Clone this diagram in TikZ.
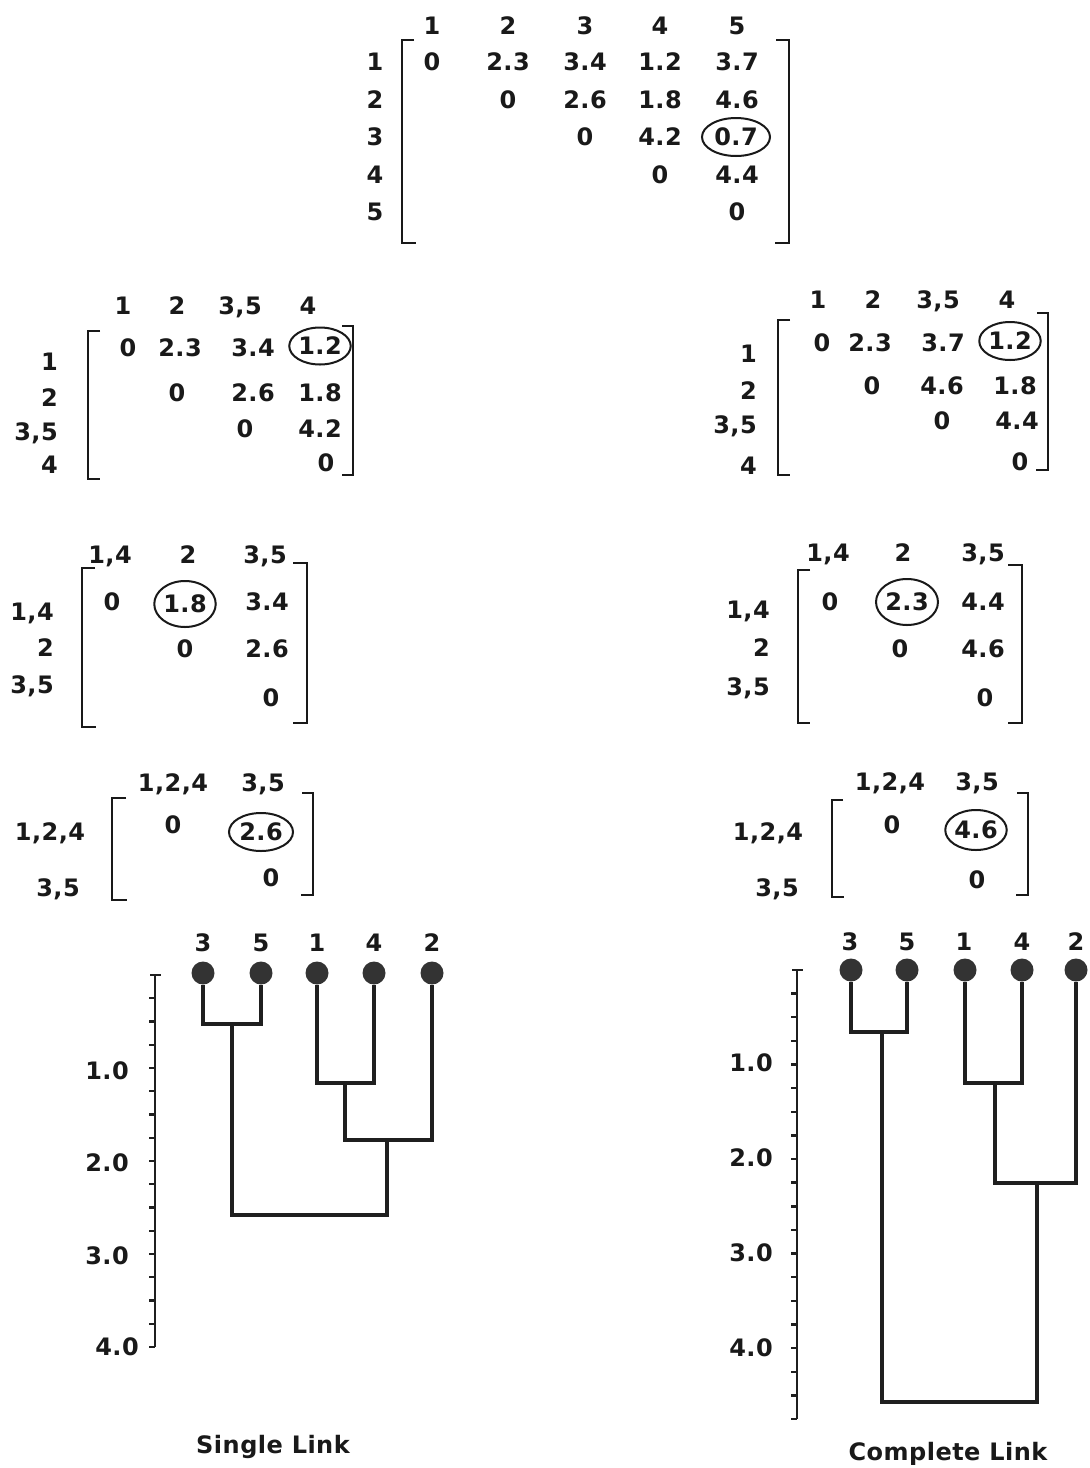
\documentclass[tikz,border=0pt]{standalone}
\usepackage{fontspec}
\newfontfamily\dfont{DejaVu Sans}[LetterSpace=2]
\usetikzlibrary{shapes.geometric}
\begin{document}
\begin{tikzpicture}[x=1pt,y=-1pt,
  every node/.style={font=\dfont\bfseries\fontsize{24}{28}\selectfont, inner sep=0pt, text height=17.5pt, text depth=0pt, text=black!90},
  circ/.style={draw=black!90, ellipse, line width=2pt},
  brk/.style={line width=2.8pt, draw=black!90},
  dend/.style={line width=3.6pt, draw=black!88},
  axis/.style={line width=2.4pt, draw=black!88},
  dot/.style={circle, fill=black!80, minimum size=23, inner sep=0pt, text height=, text depth=}
]
\useasboundingbox (0,0) rectangle (1090,1468);
\fill[white] (0,0) rectangle (1090,1468);

% ---------------- top 5x5 matrix ----------------
\node (A_h1) at (432,26) {1};
\node (A_h2) at (508,26) {2};
\node (A_h3) at (585,26) {3};
\node (A_h4) at (660,26) {4};
\node (A_h5) at (737,26) {5};
\node (A_r1) at (375,62) {1};
\node (A_r2) at (375,100) {2};
\node (A_r3) at (375,137) {3};
\node (A_r4) at (375,175) {4};
\node (A_r5) at (375,212) {5};
\node (A_11) at (432,62) {0};
\node (A_12) at (508,62) {2.3};
\node (A_13) at (585,62) {3.4};
\node (A_14) at (660,62) {1.2};
\node (A_15) at (737,62) {3.7};
\node (A_22) at (508,100) {0};
\node (A_23) at (585,100) {2.6};
\node (A_24) at (660,100) {1.8};
\node (A_25) at (737,100) {4.6};
\node (A_33) at (585,137) {0};
\node (A_34) at (660,137) {4.2};
\node[circ, minimum width=68, minimum height=38] (A_35) at (736,137) {0.7};
\node (A_44) at (660,175) {0};
\node (A_45) at (737,175) {4.4};
\node (A_55) at (737,212) {0};
\draw[brk] (414,40) -- (402,40) -- (402,243) -- (416,243);
\draw[brk] (776,40) -- (789,40) -- (789,243) -- (775,243);

% ---------------- single link 4x4 ----------------
\node (B_h1) at (123,306) {1};
\node (B_h2) at (177,306) {2};
\node (B_h3) at (240,306) {3,5};
\node (B_h4) at (308,306) {4};
\node[anchor=east] (B_r1) at (58,362) {1};
\node[anchor=east] (B_r2) at (58,398) {2};
\node[anchor=east] (B_r3) at (58,432) {3,5};
\node[anchor=east] (B_r4) at (58,465) {4};
\node (B_11) at (128,348) {0};
\node (B_12) at (180,348) {2.3};
\node (B_13) at (253,348) {3.4};
\node[circ, minimum width=54, minimum height=37] (B_14) at (320,346) {1.2};
\node (B_22) at (177,393) {0};
\node (B_23) at (253,393) {2.6};
\node (B_24) at (320,393) {1.8};
\node (B_33) at (245,429) {0};
\node (B_34) at (320,429) {4.2};
\node (B_44) at (326,463) {0};
\draw[brk] (100,331) -- (88,331) -- (88,479) -- (100,479);
\draw[brk] (342,326) -- (353,326) -- (353,475) -- (342,475);

% ---------------- complete link 4x4 ----------------
\node (C_h1) at (818,300) {1};
\node (C_h2) at (873,300) {2};
\node (C_h3) at (938,300) {3,5};
\node (C_h4) at (1007,300) {4};
\node[anchor=east] (C_r1) at (757,354) {1};
\node[anchor=east] (C_r2) at (757,391) {2};
\node[anchor=east] (C_r3) at (757,425) {3,5};
\node[anchor=east] (C_r4) at (757,466) {4};
\node (C_11) at (822,343) {0};
\node (C_12) at (870,343) {2.3};
\node (C_13) at (943,343) {3.7};
\node[circ, minimum width=58, minimum height=38] (C_14) at (1010,341) {1.2};
\node (C_22) at (872,386) {0};
\node (C_23) at (942,386) {4.6};
\node (C_24) at (1015,386) {1.8};
\node (C_33) at (942,421) {0};
\node (C_34) at (1017,421) {4.4};
\node (C_44) at (1020,462) {0};
\draw[brk] (790,320) -- (778,320) -- (778,475) -- (790,475);
\draw[brk] (1037,313) -- (1048,313) -- (1048,470) -- (1036,470);

% ---------------- single link 3x3 ----------------
\node (D_h1) at (110,555) {1,4};
\node (D_h2) at (188,555) {2};
\node (D_h3) at (265,555) {3,5};
\node[anchor=east] (D_r1) at (54,612) {1,4};
\node[anchor=east] (D_r2) at (54,648) {2};
\node[anchor=east] (D_r3) at (54,685) {3,5};
\node (D_11) at (112,602) {0};
\node[circ, minimum width=56, minimum height=46] (D_12) at (185,604) {1.8};
\node (D_13) at (267,602) {3.4};
\node (D_22) at (185,649) {0};
\node (D_23) at (267,649) {2.6};
\node (D_33) at (271,698) {0};
\draw[brk] (95,568) -- (82,568) -- (82,727) -- (96,727);
\draw[brk] (293,563) -- (307,563) -- (307,723) -- (293,723);

% ---------------- complete link 3x3 ----------------
\node (E_h1) at (828,553) {1,4};
\node (E_h2) at (903,553) {2};
\node (E_h3) at (983,553) {3,5};
\node[anchor=east] (E_r1) at (770,610) {1,4};
\node[anchor=east] (E_r2) at (770,648) {2};
\node[anchor=east] (E_r3) at (770,687) {3,5};
\node (E_11) at (830,602) {0};
\node[circ, minimum width=62, minimum height=46] (E_12) at (907,602) {2.3};
\node (E_13) at (983,602) {4.4};
\node (E_22) at (900,649) {0};
\node (E_23) at (983,649) {4.6};
\node (E_33) at (985,698) {0};
\draw[brk] (810,570) -- (798,570) -- (798,723) -- (810,723);
\draw[brk] (1008,565) -- (1022,565) -- (1022,723) -- (1008,723);

% ---------------- single link 2x2 ----------------
\node (F_h1) at (173,783) {1,2,4};
\node (F_h2) at (263,783) {3,5};
\node (F_r1) at (50,832) {1,2,4};
\node (F_r2) at (58,888) {3,5};
\node (F_11) at (173,825) {0};
\node[circ, minimum width=64, minimum height=38] (F_12) at (261,832) {2.6};
\node (F_22) at (271,878) {0};
\draw[brk] (126,798) -- (112,798) -- (112,900) -- (127,900);
\draw[brk] (302,793) -- (313,793) -- (313,895) -- (301,895);

% ---------------- complete link 2x2 ----------------
\node (G_h1) at (890,782) {1,2,4};
\node (G_h2) at (977,782) {3,5};
\node (G_r1) at (768,832) {1,2,4};
\node (G_r2) at (777,888) {3,5};
\node (G_11) at (892,825) {0};
\node[circ, minimum width=60, minimum height=40] (G_12) at (976,830) {4.6};
\node (G_22) at (977,880) {0};
\draw[brk] (843,800) -- (832,800) -- (832,897) -- (844,897);
\draw[brk] (1017,793) -- (1028,793) -- (1028,895) -- (1016,895);

% ---------------- single link dendrogram ----------------
\draw[axis] (155,975) -- (155,1347);
\draw[axis] (150,975) -- (161,975);
\foreach \k in {1,...,16} \draw[axis] (149,{975+\k*23.25}) -- (155,{975+\k*23.25});
\node (S_a1) at (107,1071) {1.0};
\node (S_a2) at (107,1163) {2.0};
\node (S_a3) at (107,1256) {3.0};
\node (S_a4) at (117,1347) {4.0};
\node (S_t3) at (203,943) {3};
\node (S_t5) at (261,943) {5};
\node (S_t1) at (317,943) {1};
\node (S_t4) at (374,943) {4};
\node (S_t2) at (432,943) {2};
\node[dot] (S_L3) at (203,973) {};
\node[dot] (S_L5) at (261,973) {};
\node[dot] (S_L1) at (317,973) {};
\node[dot] (S_L4) at (374,973) {};
\node[dot] (S_L2) at (432,973) {};
\coordinate (S_m35) at (232,1024);
\coordinate (S_m14) at (345,1083);
\coordinate (S_m142) at (387,1140);
\coordinate (S_root) at (300,1215);
\draw[dend] (S_L3) |- (S_m35) -| (S_L5);
\draw[dend] (S_L1) |- (S_m14) -| (S_L4);
\draw[dend] (S_m14) |- (S_m142) -| (S_L2);
\draw[dend] (S_m35) |- (S_root) -| (S_m142);
\node (S_title) at (273,1445) {Single Link};

% ---------------- complete link dendrogram ----------------
\draw[axis] (797,970) -- (797,1419);
\draw[axis] (792,970) -- (803,970);
\foreach \k in {1,...,19} \draw[axis] (791,{970+\k*23.63}) -- (797,{970+\k*23.63});
\node (K_a1) at (751,1063) {1.0};
\node (K_a2) at (751,1158) {2.0};
\node (K_a3) at (751,1253) {3.0};
\node (K_a4) at (751,1348) {4.0};
\node (K_t3) at (850,942) {3};
\node (K_t5) at (907,942) {5};
\node (K_t1) at (964,942) {1};
\node (K_t4) at (1022,942) {4};
\node (K_t2) at (1076,942) {2};
\node[dot] (K_L3) at (851,970) {};
\node[dot] (K_L5) at (907,970) {};
\node[dot] (K_L1) at (965,970) {};
\node[dot] (K_L4) at (1022,970) {};
\node[dot] (K_L2) at (1076,970) {};
\coordinate (K_m35) at (882,1032);
\coordinate (K_m14) at (995,1083);
\coordinate (K_m142) at (1037,1183);
\coordinate (K_root) at (960,1402);
\draw[dend] (K_L3) |- (K_m35) -| (K_L5);
\draw[dend] (K_L1) |- (K_m14) -| (K_L4);
\draw[dend] (K_m14) |- (K_m142) -| (K_L2);
\draw[dend] (K_m35) |- (K_root) -| (K_m142);
\node (K_title) at (948,1452) {Complete Link};
\end{tikzpicture}
\end{document}
